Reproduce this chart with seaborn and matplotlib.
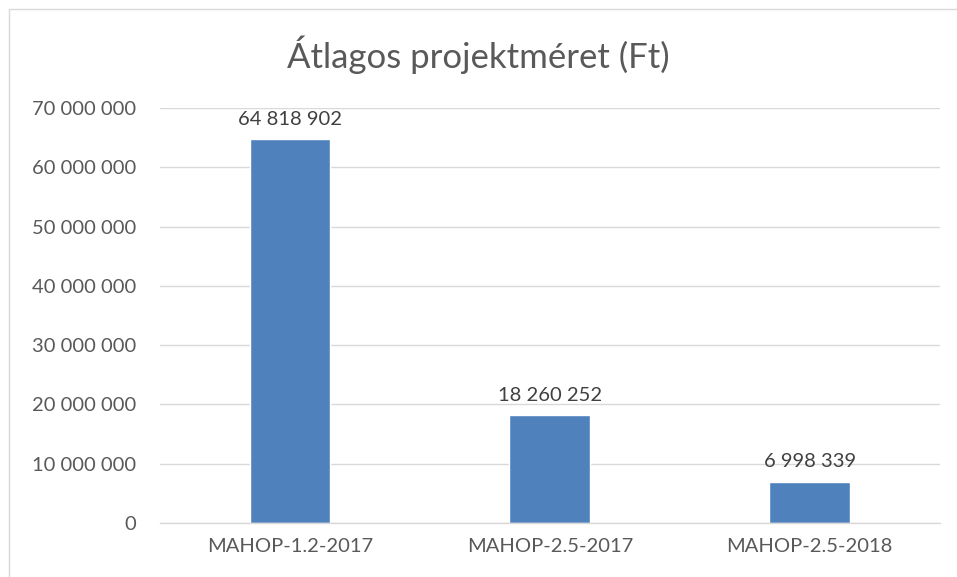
import matplotlib as mpl
import matplotlib.pyplot as plt
import seaborn as sns
import pandas as pd
from matplotlib.patches import Rectangle

categories = ['MAHOP-1.2-2017', 'MAHOP-2.5-2017', 'MAHOP-2.5-2018']
values = [64818902, 18260252, 6998339]
yticks = [0, 10000000, 20000000, 30000000, 40000000, 50000000, 60000000, 70000000]

sns.set_style("white")
plt.rcParams['font.family'] = ['Lato', 'DejaVu Sans']

def fmt(v):
    return f"{int(v):,}".replace(",", " ")

df = pd.DataFrame({'projekt': categories, 'meret': values})

fig = plt.figure(figsize=(9.57, 5.77), dpi=100)
ax = fig.add_axes([0.167, 0.0936, 0.815, 0.7192])

sns.barplot(data=df, x='projekt', y='meret', ax=ax, color='#4F81BD',
            saturation=1, width=0.31)

ax.set_ylim(0, 70000000)
ax.set_yticks(yticks)
ax.set_yticklabels([fmt(t) for t in yticks])
ax.yaxis.grid(True, color='#D9D9D9', linewidth=1)
ax.set_axisbelow(True)
for s in ['top', 'right', 'left']:
    ax.spines[s].set_visible(False)
ax.spines['bottom'].set_color('#D9D9D9')
ax.spines['bottom'].set_linewidth(1)
ax.tick_params(axis='both', length=0, labelsize=14.5, labelcolor='#595959')
ax.tick_params(axis='x', pad=11)
ax.tick_params(axis='y', pad=17)
ax.set_xlabel('')
ax.set_ylabel('')

ax.bar_label(ax.containers[0], labels=[fmt(v) for v in values], padding=8,
             fontsize=14.5, color='#404040')

fig.text(0.5, 0.905, 'Átlagos projektméret (Ft)', ha='center', va='center',
         fontsize=25, color='#595959')

fig.patches.append(Rectangle((9 / 957, -0.01), 1.0, 1 - 9 / 577 + 0.01,
                             transform=fig.transFigure, fill=False,
                             edgecolor='#D9D9D9', linewidth=1))

fig.savefig('out.png', dpi=100)
